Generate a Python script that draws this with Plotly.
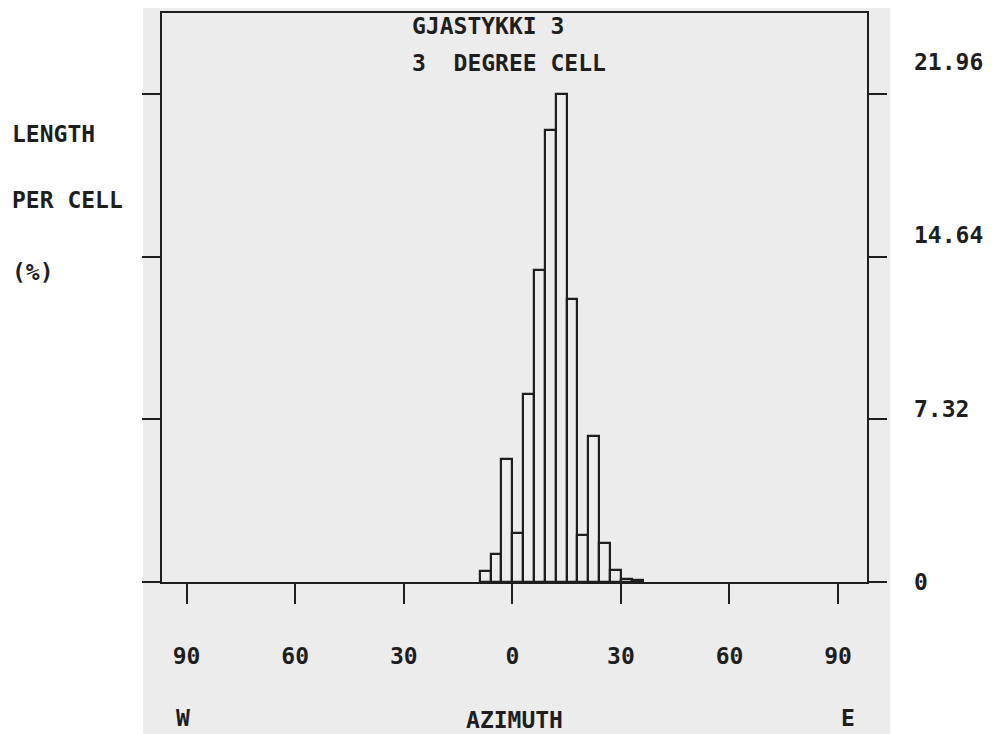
import plotly.graph_objects as go

# 3-degree cells: lower edge of each cell (degrees azimuth, W negative / E positive)
cell_start = [-9, -6, -3, 0, 3, 6, 9, 12, 15, 18, 21, 24, 27, 30, 33]
cell_width = 3
length_pct = [0.5, 1.28, 5.55, 2.22, 8.47, 14.05, 20.35, 21.96, 12.75, 2.1, 6.55, 1.75, 0.53, 0.15, 0.1]

x_tickvals = [-90, -60, -30, 0, 30, 60, 90]
x_ticktext = ["90", "60", "30", "0", "30", "60", "90"]
y_tickvals = [0, 7.32, 14.64, 21.96]
y_ticktext = ["0", "7.32", "14.64", "21.96"]

title_lines = ["GJASTYKKI 3", "3\u00a0\u00a0DEGREE CELL"]
ylabel_lines = ["LENGTH", "PER CELL", "(%)"]

FONT = "DejaVu Sans Mono, monospace"
INK = "#1e1e1e"
GRAY = "#ececec"

centers = [s + cell_width / 2 for s in cell_start]

fig = go.Figure()
fig.add_trace(go.Bar(
    x=centers, y=length_pct, width=cell_width,
    marker=dict(color=GRAY, line=dict(color=INK, width=2.2)),
    showlegend=False, hoverinfo="x+y",
))
# carrier for the right-hand label axis
fig.add_trace(go.Scatter(x=[None], y=[None], yaxis="y2", showlegend=False, hoverinfo="skip"))

fig.update_layout(
    width=984, height=726,
    margin=dict(l=154, r=125, t=5, b=152),
    paper_bgcolor="white", plot_bgcolor=GRAY,
    font=dict(family=FONT, color=INK, size=23, weight="bold"),
    bargap=0,
    xaxis=dict(
        range=[-96.8, 98.0], showgrid=False, zeroline=False, automargin=False,
        showline=True, linecolor=INK, linewidth=2, mirror=True,
        tickvals=x_tickvals, ticktext=x_ticktext,
        ticks="outside", ticklen=20, tickwidth=2, tickcolor=INK,
        ticklabelstandoff=32,
        tickfont=dict(size=23, weight="bold"),
        title=dict(text="AZIMUTH", standoff=44, font=dict(size=23, weight="bold")),
    ),
    yaxis=dict(
        range=[0, 25.6], showgrid=False, zeroline=False, automargin=False,
        showline=True, linecolor=INK, linewidth=2, mirror="ticks",
        tickvals=y_tickvals, showticklabels=False,
        ticks="outside", ticklen=18, tickwidth=2, tickcolor=INK,
    ),
    yaxis2=dict(
        overlaying="y", side="right", range=[0, 24.03], automargin=False,
        showgrid=False, zeroline=False, showline=False,
        tickvals=y_tickvals, ticktext=y_ticktext, ticks="",
        ticklabelstandoff=46, tickfont=dict(size=23, weight="bold"),
    ),
    shapes=[dict(
        type="rect", xref="paper", yref="paper",
        x0=-0.027, x1=1.033, y0=-0.27, y1=1.05,
        fillcolor=GRAY, line=dict(width=0), layer="below",
    )],
)

ann = []
for txt, yp in zip(title_lines, [0.977, 0.912]):
    ann.append(dict(text=txt, xref="paper", yref="paper", x=0.352, y=yp,
                    xanchor="left", yanchor="middle", showarrow=False))
for txt, yp in zip(ylabel_lines, [0.787, 0.671, 0.545]):
    ann.append(dict(text=txt, xref="paper", yref="paper", x=-0.2156, y=yp,
                    xanchor="left", yanchor="middle", showarrow=False))
for txt, xp in zip(["W", "E"], [0.0298, 0.973]):
    ann.append(dict(text=txt, xref="paper", yref="paper", x=xp, y=-0.239,
                    xanchor="center", yanchor="middle", showarrow=False))
fig.update_layout(annotations=ann)

fig.write_html("out.html")
